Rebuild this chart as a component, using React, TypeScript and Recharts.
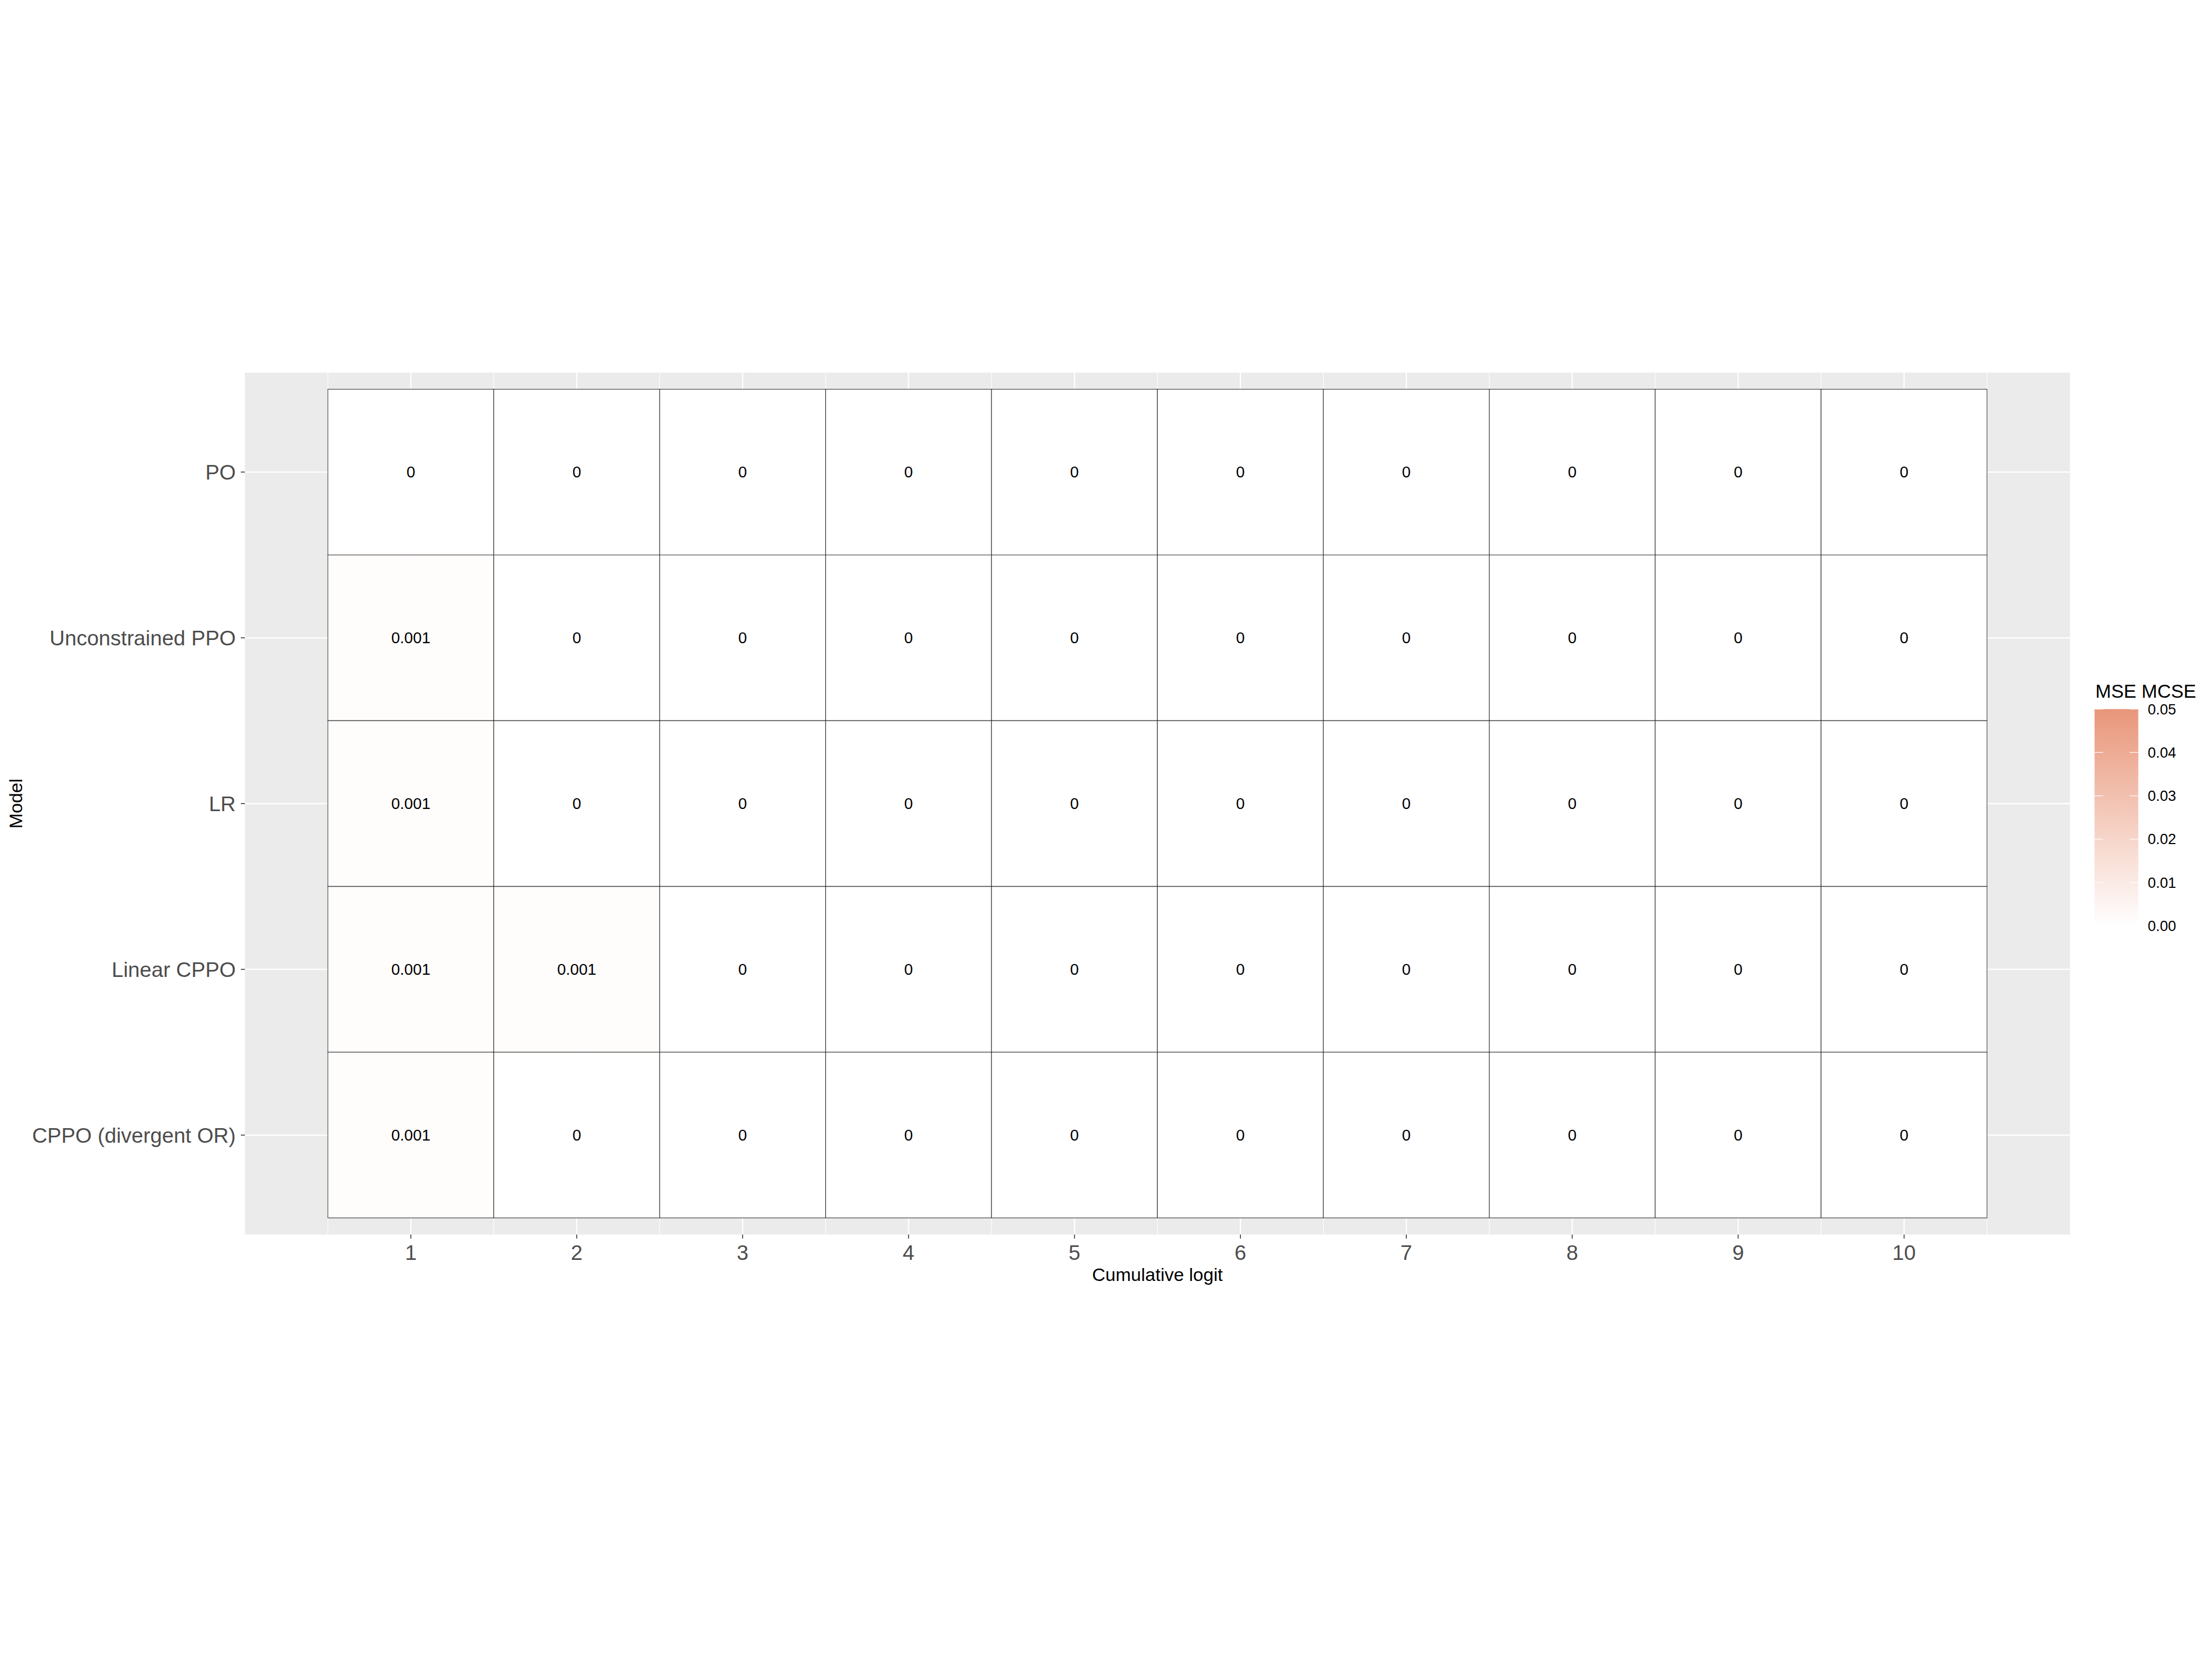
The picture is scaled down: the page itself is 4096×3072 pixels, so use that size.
import React from 'react';
import { ComposedChart, XAxis, YAxis, CartesianGrid, ReferenceArea, Scatter, Label } from 'recharts';

// ---------- data ----------
const models = ['PO', 'Unconstrained PPO', 'LR', 'Linear CPPO', 'CPPO (divergent OR)'];
const logits = [1, 2, 3, 4, 5, 6, 7, 8, 9, 10];
const valPO = [0, 0, 0, 0, 0, 0, 0, 0, 0, 0];
const valUnconstrainedPPO = [0.001, 0, 0, 0, 0, 0, 0, 0, 0, 0];
const valLR = [0.001, 0, 0, 0, 0, 0, 0, 0, 0, 0];
const valLinearCPPO = [0.001, 0.001, 0, 0, 0, 0, 0, 0, 0, 0];
const valCPPODivergent = [0.001, 0, 0, 0, 0, 0, 0, 0, 0, 0];
const legendTicks = [0, 0.01, 0.02, 0.03, 0.04, 0.05];
const fillLimits = [0, 0.05];

const rows = [valPO, valUnconstrainedPPO, valLR, valLinearCPPO, valCPPODivergent];
const rowPositions = models.map((_, i) => models.length - i); // PO at top
const minorX = [0.5, 1.5, 2.5, 3.5, 4.5, 5.5, 6.5, 7.5, 8.5, 9.5, 10.5];

const cells = rows.flatMap((vals, r) =>
  vals.map((v, c) => ({
    x: logits[c],
    y: rowPositions[r],
    value: v,
    label: v === 0 ? '0' : String(v),
  }))
);

// ---------- styling ----------
const W = 4096;
const H = 3072;
const FONT = '"Liberation Sans", Arial, Helvetica, sans-serif';
const LOW = [255, 255, 255];
const HIGH = [233, 150, 122]; // darksalmon

function fillFor(v: number) {
  const t = Math.max(0, Math.min(1, (v - fillLimits[0]) / (fillLimits[1] - fillLimits[0])));
  const c = LOW.map((l, i) => Math.round(l + (HIGH[i] - l) * t));
  return `rgb(${c[0]},${c[1]},${c[2]})`;
}

function CellText(props: any) {
  const { cx, cy, payload } = props;
  if (cx == null || cy == null) return null;
  return (
    <text x={cx} y={cy} dy="0.355em" textAnchor="middle" fontSize={29} fill="#000000" fontFamily={FONT}>
      {payload.label}
    </text>
  );
}

function XTitle(props: any) {
  const vb = props.viewBox || {};
  return (
    <text x={vb.x + vb.width / 2} y={vb.y + 86} textAnchor="middle" fontSize={34} fill="#000" fontFamily={FONT}>
      Cumulative logit
    </text>
  );
}

function YTitle(props: any) {
  const vb = props.viewBox || {};
  const x = vb.x + 7.5;
  const y = vb.y + vb.height / 2;
  return (
    <text x={x} y={y} transform={`rotate(-90, ${x}, ${y})`} textAnchor="middle" fontSize={34} fill="#000" fontFamily={FONT}>
      Model
    </text>
  );
}

function ColourLegend() {
  const barX = 3878.5;
  const barW = 81;
  const barTop = 1313;
  const barBottom = 1714.5;
  const yFor = (v: number) => barBottom - ((v - fillLimits[0]) / (fillLimits[1] - fillLimits[0])) * (barBottom - barTop);
  return (
    <svg width={W} height={H} style={{ position: 'absolute', left: 0, top: 0, pointerEvents: 'none' }}>
      <defs>
        <linearGradient id="mcseGrad" x1="0" y1="1" x2="0" y2="0">
          <stop offset="0" stopColor={fillFor(fillLimits[0])} />
          <stop offset="0.5" stopColor={fillFor((fillLimits[0] + fillLimits[1]) / 2)} />
          <stop offset="1" stopColor={fillFor(fillLimits[1])} />
        </linearGradient>
      </defs>
      <text x={3880} y={1292} fontSize={35} fill="#000" fontFamily={FONT}>MSE MCSE</text>
      <rect x={barX} y={barTop} width={barW} height={barBottom - barTop} fill="url(#mcseGrad)" />
      {legendTicks.map((t) => (
        <g key={t}>
          <line x1={barX} x2={barX + 16} y1={yFor(t)} y2={yFor(t)} stroke="#FFFFFF" strokeWidth={1.2} />
          <line x1={barX + barW - 16} x2={barX + barW} y1={yFor(t)} y2={yFor(t)} stroke="#FFFFFF" strokeWidth={1.2} />
          <text x={3977} y={yFor(t)} dy="0.355em" fontSize={27} fill="#000" fontFamily={FONT}>
            {t.toFixed(2)}
          </text>
        </g>
      ))}
    </svg>
  );
}

export default function App() {
  return (
    <div style={{ position: 'absolute', left: 0, top: 0, width: W, height: H, background: '#FFFFFF' }}>
      <ComposedChart
        width={W}
        height={H}
        data={cells}
        margin={{ top: 690, right: 263, bottom: 686, left: 33.5 }}
      >
        <CartesianGrid
          fill="#EBEBEB"
          fillOpacity={1}
          stroke="#FFFFFF"
          strokeWidth={1.1}
          horizontal={false}
          verticalValues={minorX}
        />
        <CartesianGrid
          stroke="#FFFFFF"
          strokeWidth={2.3}
          horizontalValues={rowPositions}
          verticalValues={logits}
        />
        <XAxis
          type="number"
          dataKey="x"
          domain={[0, 11]}
          ticks={logits}
          allowDataOverflow
          axisLine={false}
          tickLine={{ stroke: '#333333', strokeWidth: 1.6 }}
          tickSize={7.5}
          tickMargin={11.5}
          height={100}
          interval={0}
          tick={{ fill: '#4D4D4D', fontSize: 39, fontFamily: FONT }}
          label={<Label content={XTitle} />}
        />
        <YAxis
          type="number"
          dataKey="y"
          domain={[0.4, 5.6]}
          ticks={[1, 2, 3, 4, 5]}
          allowDataOverflow
          axisLine={false}
          tickLine={{ stroke: '#333333', strokeWidth: 1.6 }}
          tickSize={7.5}
          tickMargin={9.5}
          width={420}
          interval={0}
          tickFormatter={(v: number) => models[models.length - v]}
          tick={{ fill: '#4D4D4D', fontSize: 39, fontFamily: FONT }}
          label={<Label content={YTitle} />}
        />
        {cells.map((c) => (
          <ReferenceArea
            key={`${c.x}-${c.y}`}
            x1={c.x - 0.5}
            x2={c.x + 0.5}
            y1={c.y - 0.5}
            y2={c.y + 0.5}
            fill={fillFor(c.value)}
            fillOpacity={1}
            stroke="#000000"
            strokeOpacity={0.6}
            strokeWidth={1.4}
            ifOverflow="visible"
          />
        ))}
        <Scatter data={cells} dataKey="y" shape={CellText} isAnimationActive={false} />
      </ComposedChart>
      <ColourLegend />
    </div>
  );
}
